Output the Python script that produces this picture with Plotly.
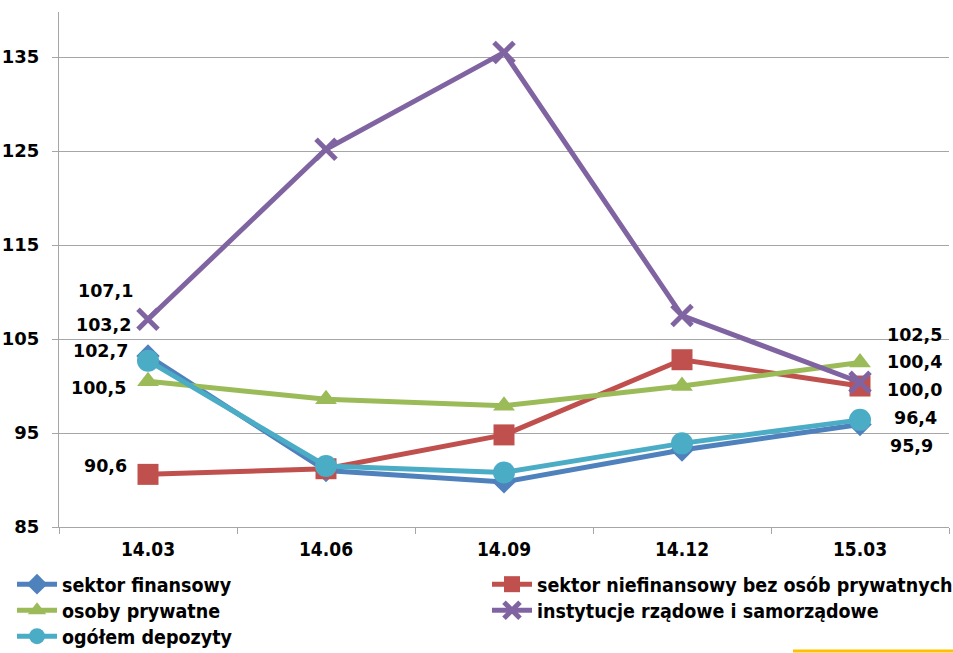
import plotly.graph_objects as go

categories = ["14.03", "14.06", "14.09", "14.12", "15.03"]

sektor_finansowy = [103.2, 91.0, 89.8, 93.2, 95.9]
sektor_niefinansowy = [90.6, 91.2, 94.8, 102.8, 100.0]
osoby_prywatne = [100.5, 98.6, 97.9, 100.0, 102.5]
instytucje = [107.1, 125.2, 135.5, 107.5, 100.4]
ogolem = [102.7, 91.5, 90.8, 93.9, 96.4]

y_ticks = [85, 95, 105, 115, 125, 135]

# name, values, color, symbol, size
series = [
    ("sektor finansowy", sektor_finansowy, "#4F81BD", "diamond", 18),
    ("sektor niefinansowy bez osób prywatnych", sektor_niefinansowy, "#C0504D", "square", 21),
    ("osoby prywatne", osoby_prywatne, "#9BBB59", "triangle-up", 19),
    ("instytucje rządowe i samorządowe", instytucje, "#8064A2", "x-thin-open", 20),
    ("ogółem depozyty", ogolem, "#4BACC6", "circle", 22),
]

# legend placement per series (legend id, x paper, y paper)
legend_pos = [
    ("legend", -0.0528, -0.0738),
    ("legend2", 0.4809, -0.0738),
    ("legend3", -0.0528, -0.1243),
    ("legend4", 0.4809, -0.1243),
    ("legend5", -0.0528, -0.1748),
]

fig = go.Figure()
for (name, vals, color, sym, size), (lg, _, _) in zip(series, legend_pos):
    if sym == "x-thin-open":
        marker = dict(symbol=sym, size=size, color=color, line=dict(width=5, color=color))
    else:
        marker = dict(symbol=sym, size=size, color=color, line=dict(width=0))
    fig.add_trace(go.Scatter(
        x=categories, y=vals, name=name, mode="lines+markers",
        line=dict(color=color, width=5), marker=marker, legend=lg,
    ))

# data labels: (series index, point index, xshift, yshift, xanchor)
label_style = [
    (3, 0, -13, 28, "right"),
    (0, 0, -15, 31, "right"),
    (4, 0, -18, 10, "right"),
    (2, 0, -20, -7, "right"),
    (1, 0, -19, 8, "right"),
    (2, 4, 54, 28, "center"),
    (3, 4, 54, 20, "center"),
    (1, 4, 54, -4, "center"),
    (4, 4, 55, 2, "center"),
    (0, 4, 51, -21, "center"),
]
for si, pi, dx, dy, xa in label_style:
    v = series[si][1][pi]
    fig.add_annotation(
        x=pi, y=v, xref="x", yref="y", text=f"{v:.1f}".replace(".", ","),
        showarrow=False, xshift=dx, yshift=dy, xanchor=xa, yanchor="middle",
        font=dict(family="DejaVu Sans", size=17.5, color="black", weight="bold"),
    )

fig.add_shape(type="line", xref="paper", yref="paper", x0=(793 - 59) / 890, x1=(953 - 59) / 890,
              y0=-124 / 515, y1=-124 / 515, line=dict(color="#FFC000", width=3))

legend_font = dict(family="DejaVu Sans Condensed, Liberation Sans Narrow", size=19.5, color="black", weight="bold")
legends = {}
for lg, lx, ly in legend_pos:
    legends[lg] = dict(
        orientation="v", x=lx, y=ly, xanchor="left", yanchor="top",
        font=legend_font, itemwidth=40, bgcolor="rgba(0,0,0,0)",
    )

fig.update_layout(
    width=953, height=653,
    margin=dict(l=59, r=4, t=12, b=126, autoexpand=False),
    plot_bgcolor="white", paper_bgcolor="white",
    showlegend=True,
    **legends,
    xaxis=dict(
        type="category", range=[-0.5, 4.5], tickson="boundaries",
        showline=True, linecolor="#A6A6A6", linewidth=1,
        ticks="outside", ticklen=6, tickcolor="#A6A6A6",
        showgrid=False,
        tickfont=dict(family="DejaVu Sans Condensed, Liberation Sans Narrow", size=19, color="black", weight="bold"),
        ticklabelstandoff=5,
    ),
    yaxis=dict(
        range=[85, 139.8], tickvals=y_ticks,
        showline=True, linecolor="#A6A6A6", linewidth=1,
        ticks="outside", ticklen=6, tickcolor="#A6A6A6",
        showgrid=True, gridcolor="#A6A6A6", gridwidth=1,
        zeroline=False,
        tickfont=dict(family="DejaVu Sans", size=18, color="black", weight="bold"),
        ticklabelstandoff=9,
    ),
)

fig.write_html("out.html", config={"displayModeBar": False},
               post_script="document.body.style.margin='0px';")
